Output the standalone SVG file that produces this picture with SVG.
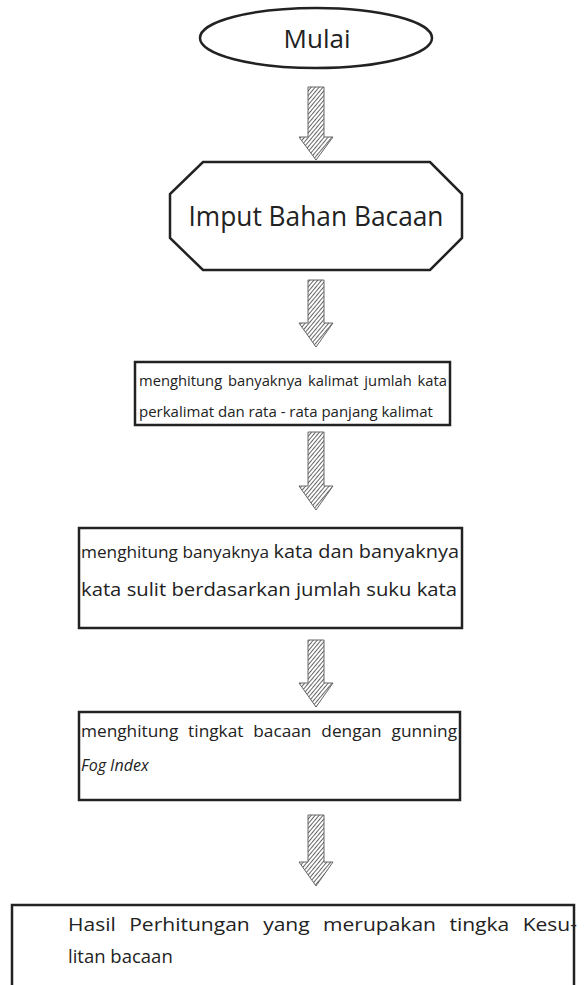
<svg xmlns="http://www.w3.org/2000/svg" width="585" height="985" viewBox="0 0 585 985">
<defs>
<pattern id="hatch" patternUnits="userSpaceOnUse" width="3" height="10" patternTransform="rotate(40)">
<line x1="0.5" y1="0" x2="0.5" y2="10" stroke="#555" stroke-width="0.9"/>
</pattern>
</defs>
<style>
.shape{fill:#fff;stroke:#222;stroke-width:2.5}
.arrow{fill:url(#hatch);stroke:#666;stroke-width:1}
.t{font-family:"Open Sans","DejaVu Sans",sans-serif;fill:#222}
</style>
<rect width="585" height="985" fill="#fff"/>
<g id="connectors">
<path class="arrow" d="M308,87 H324 V137 H333 L316,160 L299,137 H308 Z"/>
<path class="arrow" d="M308,280 H324 V323 H333 L316,347 L299,323 H308 Z"/>
<path class="arrow" d="M308,432 H324 V486 H333 L316,510 L299,486 H308 Z"/>
<path class="arrow" d="M308,640 H324 V683 H333 L316,707 L299,683 H308 Z"/>
<path class="arrow" d="M308,815 H324 V862 H333 L316,886 L299,862 H308 Z"/>
</g>
<g id="start">
<ellipse class="shape" cx="316" cy="38" rx="116" ry="30"/>
<text class="t" x="317" y="48" font-size="26" text-anchor="middle">Mulai</text>
</g>
<g id="input">
<polygon class="shape" points="203,162 430,162 462,194 462,238 430,270 203,270 170,238 170,194"/>
<text class="t" x="316" y="226" font-size="28" text-anchor="middle" textLength="255" lengthAdjust="spacingAndGlyphs">Imput Bahan Bacaan</text>
</g>
<g id="step1">
<rect class="shape" x="135" y="362" width="315" height="63"/>
<text class="t" x="139" y="386" font-size="15" word-spacing="2" textLength="308" lengthAdjust="spacingAndGlyphs">menghitung banyaknya kalimat jumlah kata</text>
<text class="t" x="139" y="417" font-size="15">perkalimat dan rata - rata panjang kalimat</text>
</g>
<g id="step2">
<rect class="shape" x="79" y="528" width="383" height="100"/>
<text class="t" x="81" y="558" font-size="16" textLength="378" lengthAdjust="spacingAndGlyphs">menghitung banyaknya <tspan font-size="18.5">kata dan banyaknya</tspan></text>
<text class="t" x="81" y="596" font-size="18.5" textLength="376" lengthAdjust="spacingAndGlyphs">kata sulit berdasarkan jumlah suku kata</text>
</g>
<g id="step3">
<rect class="shape" x="79" y="712" width="381" height="88"/>
<text class="t" x="81" y="737" font-size="16" word-spacing="5" textLength="376" lengthAdjust="spacingAndGlyphs">menghitung tingkat bacaan dengan gunning</text>
<text class="t" x="81" y="771" font-size="16" font-style="italic">Fog Index</text>
</g>
<g id="result">
<rect class="shape" x="12" y="905" width="562" height="90"/>
<text class="t" x="68" y="931" font-size="18.5" word-spacing="7" textLength="509" lengthAdjust="spacingAndGlyphs">Hasil Perhitungan yang merupakan tingka Kesu-</text>
<text class="t" x="68" y="963" font-size="18.5">litan bacaan</text>
</g>
</svg>
